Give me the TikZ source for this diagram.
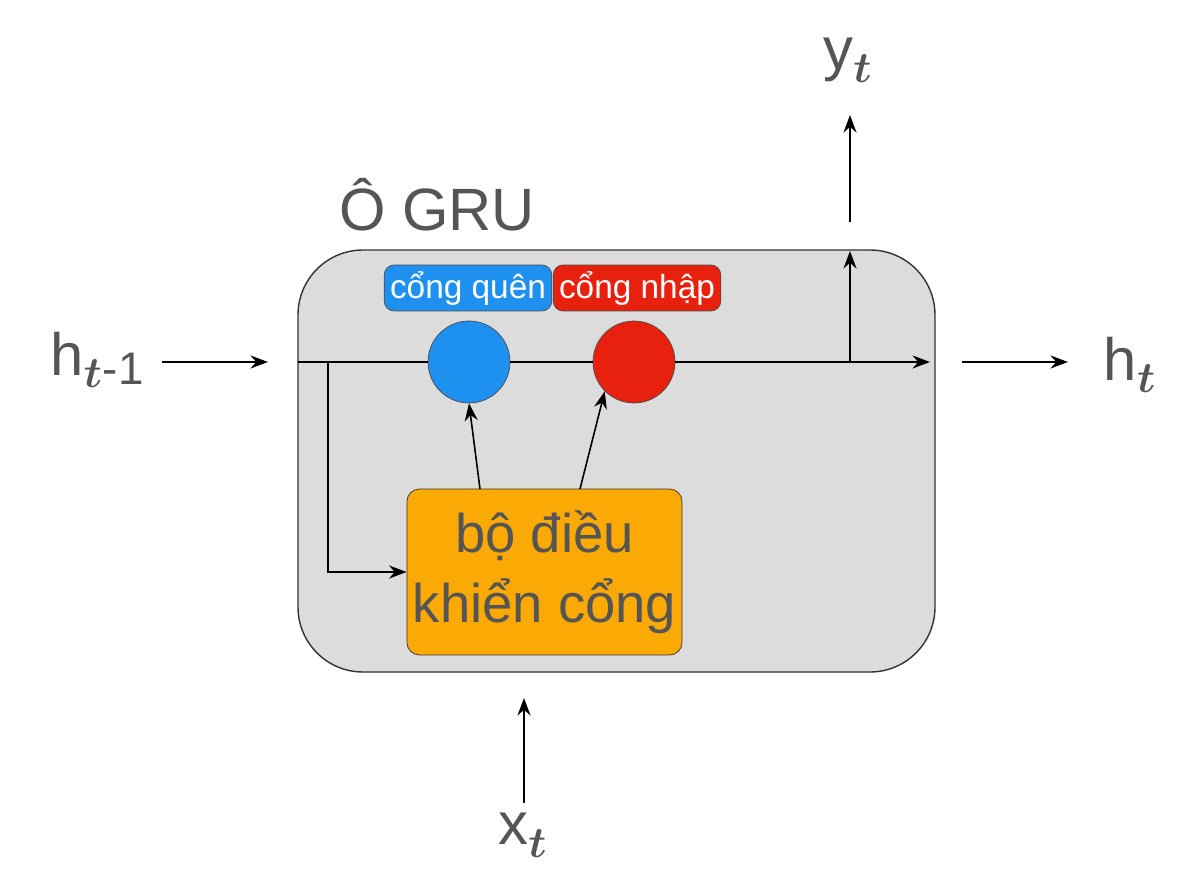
\documentclass[tikz,border=0pt]{standalone}
\usepackage{amsmath}
\usepackage{fontspec}
\setmainfont{Liberation Sans}
\usepackage{xcolor}
\usetikzlibrary{positioning, arrows.meta, calc}
\definecolor{cellgray}{HTML}{DCDCDC}
\definecolor{txtgray}{HTML}{555555}
\definecolor{gateblue}{HTML}{1E90F0}
\definecolor{gatered}{HTML}{E8200E}
\definecolor{ctrlorange}{HTML}{FBA904}
\tikzset{
    flow/.style={-{Stealth[length=3.5mm,width=2.6mm]}, line width=0.9pt},
    bigtext/.style={text=txtgray, font=\fontsize{34}{38}\selectfont},
    tag/.style={draw=black!70, rounded corners=2mm, minimum width=3.2cm, minimum height=0.92cm, text=white, font=\fontsize{19}{22}\selectfont},
    gate/.style={circle, draw=black!70, minimum size=1.64cm}
}
\newcommand{\sbt}[1]{$_{\boldsymbol{#1}}$}
\begin{document}
\begin{tikzpicture}[x=0.02cm, y=-0.02cm]
    \useasboundingbox (0,0) rectangle (1198,896);

    % cell
    \draw[fill=cellgray, draw=black!80, rounded corners=1.3cm, line width=0.8pt]
        (298,250) rectangle (935,672);
    \node[bigtext] (title) at (437,205) {Ô GRU};

    % gates
    \node[gate, fill=gateblue] (forget) at (469,362) {};
    \node[gate, fill=gatered] (input) at (634,362) {};
    \node[tag, fill=gateblue] (forgettag) at (468,288) {cổng quên};
    \node[tag, fill=gatered] (inputtag) at (637,288) {cổng nhập};

    % controller
    \node[draw=black!80, fill=ctrlorange, rounded corners=2.5mm, minimum width=5.3cm,
        minimum height=3.32cm, align=center, text=txtgray,
        font=\fontsize{31}{40}\selectfont] (ctrl) at (544.5,572) {bộ điều\\khiển cổng};

    % labels
    \node[bigtext] (hprev) at (97,360) {h\sbt{t}\raisebox{-0.3ex}{\fontsize{26}{30}\selectfont -1}};
    \node[bigtext] (hnext) at (1130,365) {h\sbt{t}};
    \node[bigtext] (yout) at (848,60) {y\sbt{t}};
    \node[bigtext] (xin) at (523,835) {x\sbt{t}};

    \coordinate (lin) at (298,362);
    \coordinate (split) at (328,362);
    \coordinate (tap) at (850,362);
    \coordinate (rout) at (930,362);

    % connectors
    \draw[flow] (162,362) -- (268,362);
    \draw[line width=0.9pt] (lin) -- (forget);
    \draw[line width=0.9pt] (forget) -- (input);
    \draw[flow] (input) -- (rout);
    \draw[flow] (tap) -- (850,251);
    \draw[flow] (850,222) -- (850,115);
    \draw[flow] (962,362) -- (1068,362);
    \draw[flow] (split) |- (ctrl.west |- 0,572);
    \draw[flow] (480,489) -- (forget.south);
    \draw[flow] (580,489) -- (input.south west);
    \draw[flow] (524,803) -- (524,698);
\end{tikzpicture}
\end{document}
